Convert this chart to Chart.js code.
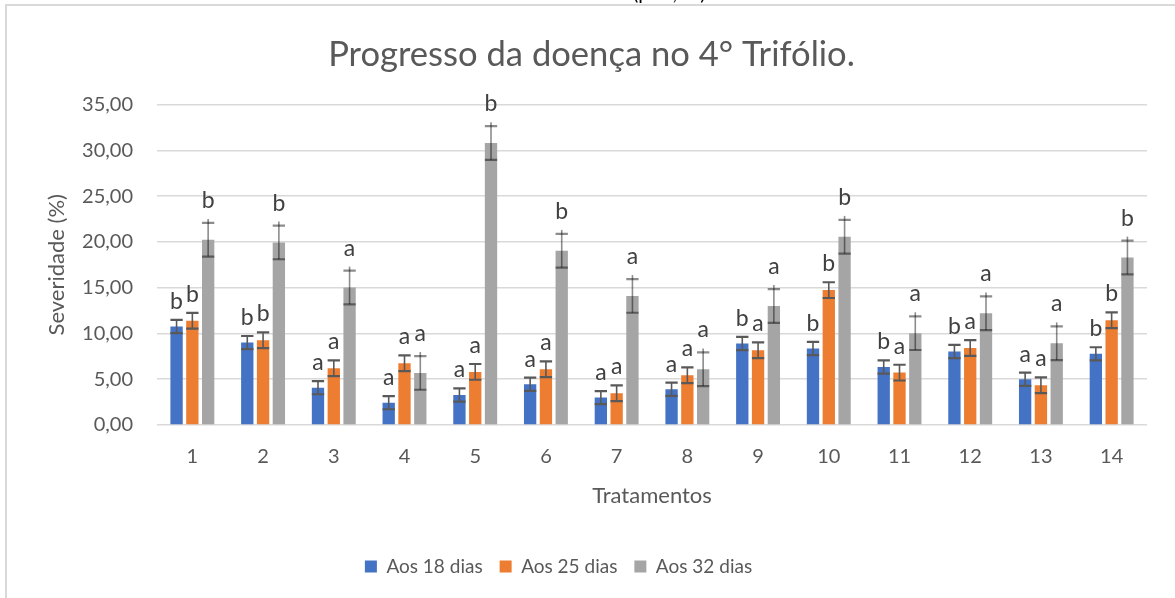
<!DOCTYPE html>
<html>
<head>
<meta charset="utf-8">
<script src="https://cdn.jsdelivr.net/npm/chart.js@4"></script>
<style>
  body { margin: 0; background: #fff; }
  #wrap { width: 1175px; height: 598px; position: relative; }
</style>
</head>
<body>
<div id="wrap"><canvas id="chart" width="1175" height="598"></canvas></div>
<script>
const tratamentos = ["1","2","3","4","5","6","7","8","9","10","11","12","13","14"];

const dias18 = [10.75, 9.00, 4.08, 2.44, 3.28, 4.45, 2.99, 3.90, 8.90, 8.35, 6.34, 8.02, 5.00, 7.77];
const dias25 = [11.38, 9.26, 6.20, 6.75, 5.80, 6.09, 3.46, 5.43, 8.17, 14.73, 5.72, 8.42, 4.34, 11.45];
const dias32 = [20.23, 19.94, 15.02, 5.69, 30.80, 19.03, 14.10, 6.09, 13.00, 20.56, 10.03, 12.20, 8.93, 18.30];

const erro18 = [0.72, 0.72, 0.72, 0.72, 0.72, 0.72, 0.72, 0.72, 0.72, 0.72, 0.72, 0.72, 0.72, 0.72];
const erro25 = [0.86, 0.86, 0.86, 0.86, 0.86, 0.86, 0.86, 0.86, 0.86, 0.86, 0.86, 0.86, 0.86, 0.86];
const erro32 = [1.84, 1.84, 1.84, 1.84, 1.84, 1.84, 1.84, 1.84, 1.84, 1.84, 1.84, 1.84, 1.84, 1.84];

// letras do teste de médias
const letras18 = ["b","b","a","a","a","a","a","a","b","b","b","b","a","b"];
const letras25 = ["b","b","a","a","a","a","a","a","a","b","a","a","a","b"];
const letras32 = ["b","b","a","a","b","b","a","a","a","b","a","a","a","b"];

const yTicks = [0, 5, 10, 15, 20, 25, 30, 35];

const fmt = (v) => v.toFixed(2).replace(".", ",");
const FONT = "Lato";

const errorBars = {
  id: "errorBars",
  afterDatasetsDraw(chart) {
    const ctx = chart.ctx;
    const y = chart.scales.y;
    chart.data.datasets.forEach((ds, di) => {
      const meta = chart.getDatasetMeta(di);
      meta.data.forEach((bar, i) => {
        const v = ds.data[i];
        const e = ds.errors[i];
        const yTop = y.getPixelForValue(v + e);
        const yBot = y.getPixelForValue(v - e);
        const half = bar.width / 2;
        ctx.save();
        ctx.strokeStyle = ds.errorColor;
        ctx.lineWidth = 1.6;
        ctx.beginPath();
        ctx.moveTo(bar.x, yTop - ds.errorOver);
        ctx.lineTo(bar.x, yBot);
        ctx.stroke();
        ctx.lineWidth = 2.2;
        ctx.beginPath();
        ctx.moveTo(bar.x - half, yTop);
        ctx.lineTo(bar.x + half, yTop);
        ctx.moveTo(bar.x - half, yBot);
        ctx.lineTo(bar.x + half, yBot);
        ctx.stroke();

        ctx.fillStyle = "#404040";
        ctx.font = "23px " + FONT;
        ctx.textAlign = "center";
        ctx.textBaseline = "alphabetic";
        ctx.fillText(ds.letters[i], bar.x, yTop - ds.letterGap);
        ctx.restore();
      });
    });
  }
};

const frame = {
  id: "frame",
  beforeDraw(chart) {
    const ctx = chart.ctx;
    ctx.save();
    ctx.fillStyle = "#fff";
    ctx.fillRect(0, 0, chart.width, chart.height);
    ctx.strokeStyle = "#d9d9d9";
    ctx.lineWidth = 2;
    ctx.beginPath();
    ctx.moveTo(6, chart.height + 2);
    ctx.lineTo(6, 5);
    ctx.lineTo(chart.width + 2, 5);
    ctx.stroke();
    ctx.fillStyle = "#000";
    ctx.font = "20px " + FONT;
    ctx.textAlign = "left";
    ctx.textBaseline = "alphabetic";
    ctx.fillText("(p<0,05)", 633, 0);
    ctx.restore();
  },
  afterLayout(chart) {
    // título e legenda ligeiramente fora do centro, como no original
    chart.titleBlock.left += 16;
    chart.legend.right -= 50;
  }
};

new Chart(document.getElementById("chart"), {
  type: "bar",
  data: {
    labels: tratamentos,
    datasets: [
      { label: "Aos 18 dias", data: dias18, errors: erro18, letters: letras18, backgroundColor: "#4472C4", errorColor: "#595959", errorOver: 0, letterGap: 11 },
      { label: "Aos 25 dias", data: dias25, errors: erro25, letters: letras25, backgroundColor: "#ED7D31", errorColor: "#595959", errorOver: 0, letterGap: 11 },
      { label: "Aos 32 dias", data: dias32, errors: erro32, letters: letras32, backgroundColor: "#A5A5A5", errorColor: "rgba(0,0,0,0.45)", errorOver: 4, letterGap: 15 },
    ]
  },
  options: {
    responsive: false,
    animation: false,
    datasets: { bar: { categoryPercentage: 0.67, barPercentage: 0.78 } },
    layout: { padding: { top: 20, left: 20, right: 28, bottom: 12 } },
    plugins: {
      tooltip: { enabled: false },
      title: {
        display: true,
        text: "Progresso da doença no 4° Trifólio.",
        color: "#595959",
        font: { family: FONT, size: 34.6, weight: "normal" },
        padding: { top: 14, bottom: 29 }
      },
      legend: {
        position: "bottom",
        labels: {
          color: "#595959",
          font: { family: FONT, size: 19 },
          boxWidth: 12,
          boxHeight: 12,
          padding: 17
        }
      }
    },
    scales: {
      x: {
        grid: { display: false },
        border: { display: false },
        ticks: { color: "#595959", font: { family: FONT, size: 20 }, padding: 12 },
        title: {
          display: true,
          text: "Tratamentos",
          color: "#595959",
          font: { family: FONT, size: 22 },
          padding: { top: 0, bottom: 31 }
        },
        afterFit(scale) { scale.height = 115; }
      },
      y: {
        min: 0,
        max: 35,
        afterBuildTicks(scale) { scale.ticks = yTicks.map((v) => ({ value: v })); },
        grid: { color: "#d9d9d9", lineWidth: 1.5, drawTicks: false },
        border: { display: false },
        ticks: { color: "#595959", font: { family: FONT, size: 20 }, padding: 24, callback: (v) => fmt(v) },
        title: {
          display: true,
          text: "Severidade (%)",
          color: "#595959",
          font: { family: FONT, size: 22 },
          padding: { top: 24, bottom: 0 }
        },
        afterFit(scale) { scale.width = 137; }
      }
    }
  },
  plugins: [frame, errorBars]
});
</script>
</body>
</html>
